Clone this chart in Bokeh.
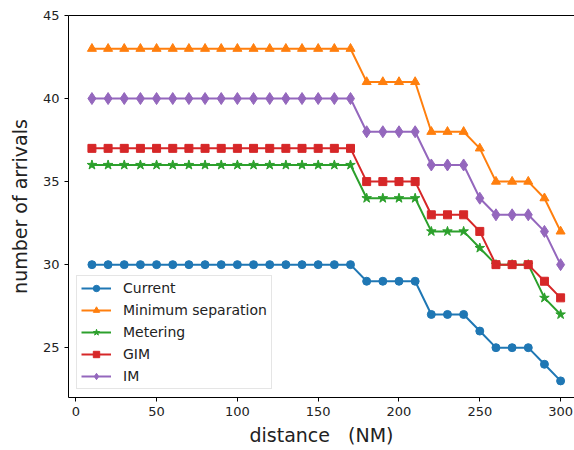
from bokeh.plotting import figure
from bokeh.models import Range1d, LinearAxis, FixedTicker, Legend
from bokeh.embed import file_html
from bokeh.resources import INLINE

distance = list(range(10, 301, 10))
current = [30]*17 + [29, 29, 29, 29, 27, 27, 27, 26, 25, 25, 25, 24, 23]
min_sep = [43]*17 + [41, 41, 41, 41, 38, 38, 38, 37, 35, 35, 35, 34, 32]
metering = [36]*17 + [34, 34, 34, 34, 32, 32, 32, 31, 30, 30, 30, 28, 27]
gim = [37]*17 + [35, 35, 35, 35, 33, 33, 33, 32, 30, 30, 30, 29, 28]
im = [40]*17 + [38, 38, 38, 38, 36, 36, 36, 34, 33, 33, 33, 32, 30]

x_ticks = [0, 50, 100, 150, 200, 250, 300]
y_ticks = [25, 30, 35, 40, 45]

FONT = "DejaVu Sans"

p = figure(width=574, height=450, output_backend="svg", toolbar_location=None,
           x_range=Range1d(-4.5, 308.6), y_range=Range1d(22, 45),
           min_border_left=68, min_border_right=0, min_border_top=15, min_border_bottom=53,
           x_axis_location=None, y_axis_location=None)
p.outline_line_color = None
p.grid.visible = False
p.background_fill_color = "white"
p.border_fill_color = "white"

def style_axis(ax, label=None):
    ax.axis_line_color = "black"
    ax.axis_line_width = 1
    ax.major_tick_line_color = "black"
    ax.major_tick_out = 4
    ax.major_tick_in = 0
    ax.minor_tick_line_color = None
    ax.major_label_text_font = FONT
    ax.major_label_text_font_size = "13px"
    ax.major_label_text_color = "#222222"
    if label:
        ax.axis_label = label
        ax.axis_label_text_font = FONT
        ax.axis_label_text_font_size = "19px"
        ax.axis_label_text_font_style = "normal"
        ax.axis_label_text_color = "#222222"

xa = LinearAxis(ticker=FixedTicker(ticks=x_ticks))
style_axis(xa, "distance\u00a0\u00a0\u00a0(NM)")
xa.axis_label_standoff = 5
p.add_layout(xa, "below")

ya = LinearAxis(ticker=FixedTicker(ticks=y_ticks))
style_axis(ya, "number of arrivals")
ya.axis_label_standoff = 9
p.add_layout(ya, "left")

top = LinearAxis(ticker=FixedTicker(ticks=[]))
top.axis_line_color = "black"
top.major_label_text_font_size = "0px"
top.major_tick_line_color = None
top.minor_tick_line_color = None
p.add_layout(top, "above")

series = [
    ("Current", current, "#1f77b4", "circle", 8),
    ("Minimum separation", min_sep, "#ff7f0e", "triangle", 9),
    ("Metering", metering, "#2ca02c", "star", 10),
    ("GIM", gim, "#d62728", "square", 8),
    ("IM", im, "#9467bd", "diamond", 12),
]

items = []
for name, vals, col, mk, sz in series:
    r1 = p.line(distance, vals, line_color=col, line_width=2)
    r2 = p.scatter(distance, vals, marker=mk, size=sz, fill_color=col, line_color=col)
    items.append((name, [r1, r2]))

legend = Legend(items=items, location="bottom_left")
legend.label_text_font = FONT
legend.label_text_font_size = "14px"
legend.label_text_color = "#222222"
legend.border_line_color = "#cccccc"
legend.border_line_width = 1
legend.background_fill_alpha = 0.8
legend.glyph_width = 30
legend.glyph_height = 16
legend.label_height = 16
legend.spacing = 6
legend.padding = 4
legend.margin = 8
legend.label_standoff = 12
p.add_layout(legend, "center")

open("out.html", "w").write(file_html(p, INLINE))
